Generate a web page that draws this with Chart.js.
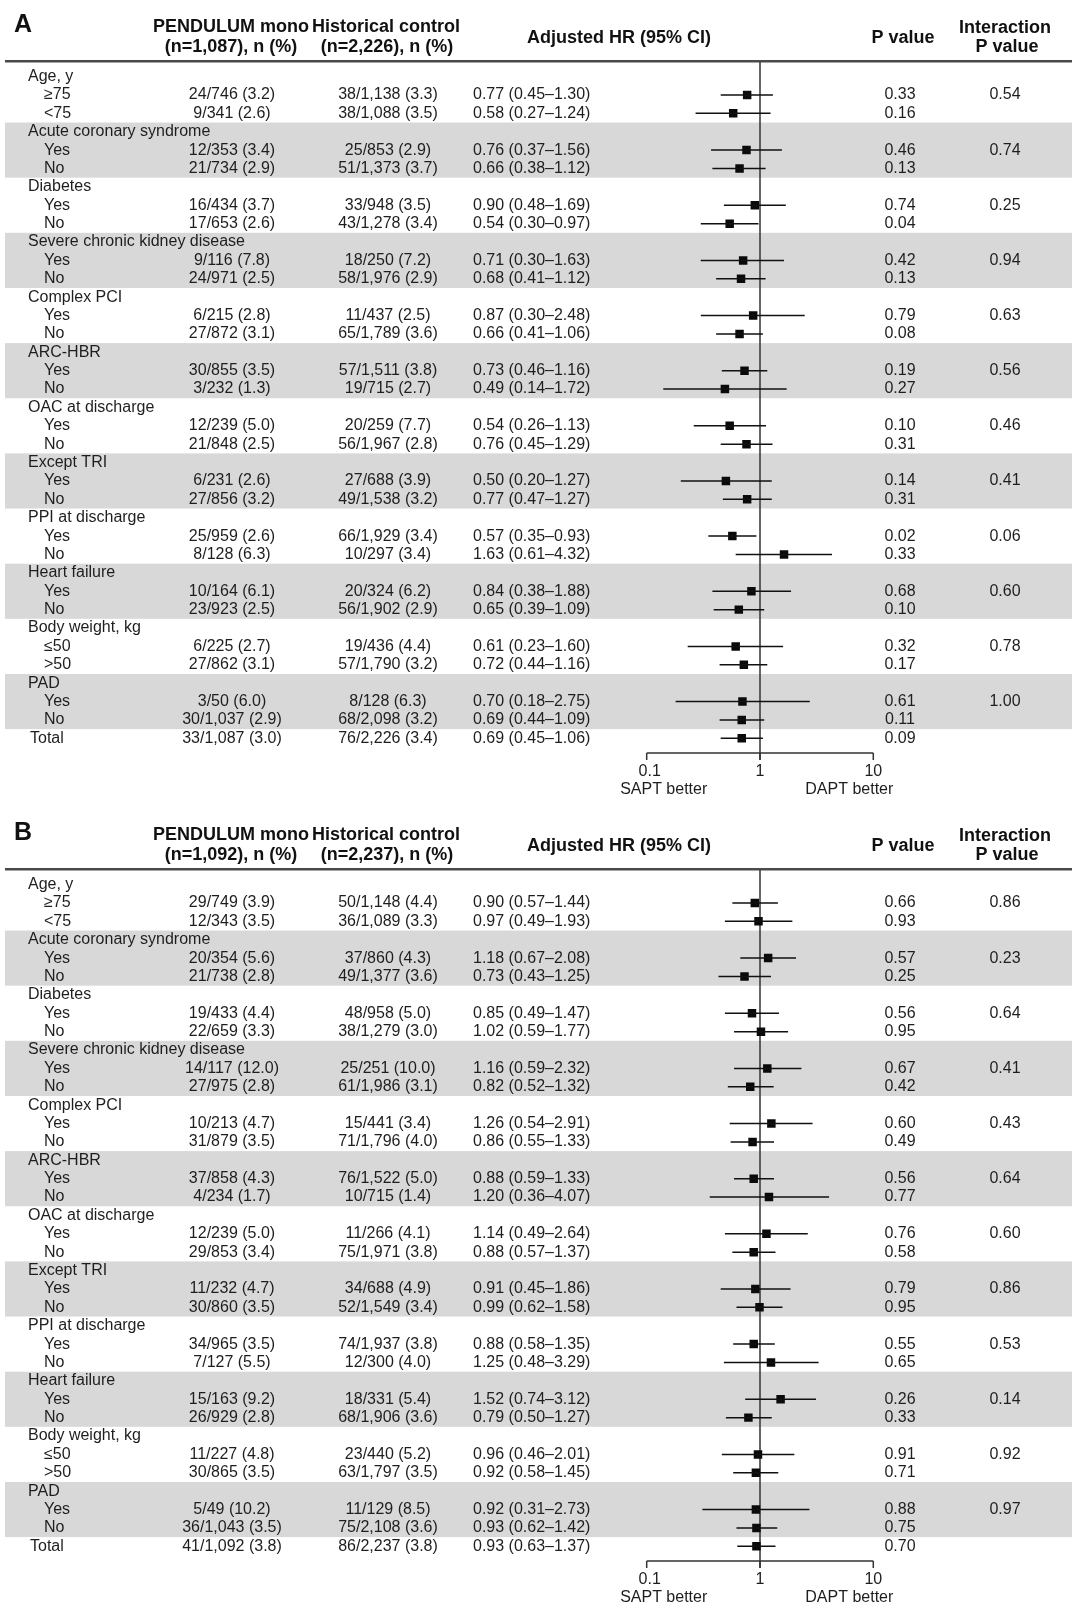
<!DOCTYPE html>
<html>
<head>
<meta charset="utf-8">
<script src="https://cdn.jsdelivr.net/npm/chart.js@4.4.1/dist/chart.umd.min.js"></script>
<style>
  html, body { margin: 0; padding: 0; background: #fff; overflow: hidden; }
  canvas { display: block; }
</style>
</head>
<body>
<canvas id="panelA" width="1072" height="808"></canvas>
<canvas id="panelB" width="1072" height="808"></canvas>
<script>
// ---------- shared labels ----------
const groupNames = ["Age, y", "Acute coronary syndrome", "Diabetes", "Severe chronic kidney disease",
  "Complex PCI", "ARC-HBR", "OAC at discharge", "Except TRI", "PPI at discharge",
  "Heart failure", "Body weight, kg", "PAD"];
const subLabels = [["≥75", "<75"], ["Yes", "No"], ["Yes", "No"], ["Yes", "No"], ["Yes", "No"],
  ["Yes", "No"], ["Yes", "No"], ["Yes", "No"], ["Yes", "No"], ["Yes", "No"], ["≤50", ">50"], ["Yes", "No"]];
const totalLabel = "Total";
const colHeaders = ["Adjusted HR (95% CI)", "P value", "Interaction", "P value"];
const tickValues = [0.1, 1, 10];
const tickLabels = ["0.1", "1", "10"];
const sideLabels = ["SAPT better", "DAPT better"];

// ---------- Panel A ----------
const titleA = "A";
const nHeadA = ["(n=1,087), n (%)", "(n=2,226), n (%)"];
const monoA = ["24/746 (3.2)", "9/341 (2.6)", "12/353 (3.4)", "21/734 (2.9)", "16/434 (3.7)", "17/653 (2.6)",
  "9/116 (7.8)", "24/971 (2.5)", "6/215 (2.8)", "27/872 (3.1)", "30/855 (3.5)", "3/232 (1.3)",
  "12/239 (5.0)", "21/848 (2.5)", "6/231 (2.6)", "27/856 (3.2)", "25/959 (2.6)", "8/128 (6.3)",
  "10/164 (6.1)", "23/923 (2.5)", "6/225 (2.7)", "27/862 (3.1)", "3/50 (6.0)", "30/1,037 (2.9)", "33/1,087 (3.0)"];
const ctrlA = ["38/1,138 (3.3)", "38/1,088 (3.5)", "25/853 (2.9)", "51/1,373 (3.7)", "33/948 (3.5)", "43/1,278 (3.4)",
  "18/250 (7.2)", "58/1,976 (2.9)", "11/437 (2.5)", "65/1,789 (3.6)", "57/1,511 (3.8)", "19/715 (2.7)",
  "20/259 (7.7)", "56/1,967 (2.8)", "27/688 (3.9)", "49/1,538 (3.2)", "66/1,929 (3.4)", "10/297 (3.4)",
  "20/324 (6.2)", "56/1,902 (2.9)", "19/436 (4.4)", "57/1,790 (3.2)", "8/128 (6.3)", "68/2,098 (3.2)", "76/2,226 (3.4)"];
const hrA = [0.77, 0.58, 0.76, 0.66, 0.90, 0.54, 0.71, 0.68, 0.87, 0.66, 0.73, 0.49, 0.54, 0.76, 0.50, 0.77, 0.57, 1.63, 0.84, 0.65, 0.61, 0.72, 0.70, 0.69, 0.69];
const loA = [0.45, 0.27, 0.37, 0.38, 0.48, 0.30, 0.30, 0.41, 0.30, 0.41, 0.46, 0.14, 0.26, 0.45, 0.20, 0.47, 0.35, 0.61, 0.38, 0.39, 0.23, 0.44, 0.18, 0.44, 0.45];
const hiA = [1.30, 1.24, 1.56, 1.12, 1.69, 0.97, 1.63, 1.12, 2.48, 1.06, 1.16, 1.72, 1.13, 1.29, 1.27, 1.27, 0.93, 4.32, 1.88, 1.09, 1.60, 1.16, 2.75, 1.09, 1.06];
const pA = ["0.33", "0.16", "0.46", "0.13", "0.74", "0.04", "0.42", "0.13", "0.79", "0.08", "0.19", "0.27",
  "0.10", "0.31", "0.14", "0.31", "0.02", "0.33", "0.68", "0.10", "0.32", "0.17", "0.61", "0.11", "0.09"];
const interA = ["0.54", "0.74", "0.25", "0.94", "0.63", "0.56", "0.46", "0.41", "0.06", "0.60", "0.78", "1.00"];

// ---------- Panel B ----------
const titleB = "B";
const nHeadB = ["(n=1,092), n (%)", "(n=2,237), n (%)"];
const monoB = ["29/749 (3.9)", "12/343 (3.5)", "20/354 (5.6)", "21/738 (2.8)", "19/433 (4.4)", "22/659 (3.3)",
  "14/117 (12.0)", "27/975 (2.8)", "10/213 (4.7)", "31/879 (3.5)", "37/858 (4.3)", "4/234 (1.7)",
  "12/239 (5.0)", "29/853 (3.4)", "11/232 (4.7)", "30/860 (3.5)", "34/965 (3.5)", "7/127 (5.5)",
  "15/163 (9.2)", "26/929 (2.8)", "11/227 (4.8)", "30/865 (3.5)", "5/49 (10.2)", "36/1,043 (3.5)", "41/1,092 (3.8)"];
const ctrlB = ["50/1,148 (4.4)", "36/1,089 (3.3)", "37/860 (4.3)", "49/1,377 (3.6)", "48/958 (5.0)", "38/1,279 (3.0)",
  "25/251 (10.0)", "61/1,986 (3.1)", "15/441 (3.4)", "71/1,796 (4.0)", "76/1,522 (5.0)", "10/715 (1.4)",
  "11/266 (4.1)", "75/1,971 (3.8)", "34/688 (4.9)", "52/1,549 (3.4)", "74/1,937 (3.8)", "12/300 (4.0)",
  "18/331 (5.4)", "68/1,906 (3.6)", "23/440 (5.2)", "63/1,797 (3.5)", "11/129 (8.5)", "75/2,108 (3.6)", "86/2,237 (3.8)"];
const hrB = [0.90, 0.97, 1.18, 0.73, 0.85, 1.02, 1.16, 0.82, 1.26, 0.86, 0.88, 1.20, 1.14, 0.88, 0.91, 0.99, 0.88, 1.25, 1.52, 0.79, 0.96, 0.92, 0.92, 0.93, 0.93];
const loB = [0.57, 0.49, 0.67, 0.43, 0.49, 0.59, 0.59, 0.52, 0.54, 0.55, 0.59, 0.36, 0.49, 0.57, 0.45, 0.62, 0.58, 0.48, 0.74, 0.50, 0.46, 0.58, 0.31, 0.62, 0.63];
const hiB = [1.44, 1.93, 2.08, 1.25, 1.47, 1.77, 2.32, 1.32, 2.91, 1.33, 1.33, 4.07, 2.64, 1.37, 1.86, 1.58, 1.35, 3.29, 3.12, 1.27, 2.01, 1.45, 2.73, 1.42, 1.37];
const pB = ["0.66", "0.93", "0.57", "0.25", "0.56", "0.95", "0.67", "0.42", "0.60", "0.49", "0.56", "0.77",
  "0.76", "0.58", "0.79", "0.95", "0.55", "0.65", "0.26", "0.33", "0.91", "0.71", "0.88", "0.75", "0.70"];
const interB = ["0.86", "0.23", "0.64", "0.41", "0.43", "0.64", "0.60", "0.86", "0.53", "0.14", "0.92", "0.97"];

// ---------- drawing ----------
const FONT = '"Liberation Sans", Arial, Helvetica, sans-serif';
const TXT = '#1e1e1e';

// row slot of data row i on the y scale (group header rows sit between)
function rowSlot(i, n) { return i < n - 1 ? 3 * Math.floor(i / 2) + 1 + (i % 2) : 3 * groupNames.length; }

function fmt(v) { return v.toFixed(2); }

function makePanel(canvasId, P) {
  const n = P.hr.length;
  const pts = P.hr.map((v, i) => ({ x: v, y: rowSlot(i, n) }));
  const ci = [];
  P.lo.forEach((lo, i) => {
    ci.push({ x: lo, y: rowSlot(i, n) }, { x: P.hi[i], y: rowSlot(i, n) }, { x: null, y: null });
  });

  const tablePlugin = {
    id: 'forestTable',
    beforeDatasetsDraw(chart) {
      const ctx = chart.ctx, X = chart.scales.x, Y = chart.scales.y, ca = chart.chartArea;
      const W = chart.width;
      ctx.save();
      // alternating bands
      ctx.fillStyle = '#d8d8d8';
      groupNames.forEach((g, gi) => {
        if (gi % 2 === 1) {
          const t = Y.getPixelForValue(3 * gi - 0.5), b = Y.getPixelForValue(3 * gi + 2.5);
          ctx.fillRect(5, t, W - 5, b - t);
        }
      });
      // header rule
      ctx.fillStyle = '#4a4a4a';
      ctx.fillRect(5, ca.top - 2, W - 5, 2.5);

      // panel letter & headers
      ctx.fillStyle = '#111';
      ctx.textBaseline = 'middle';
      ctx.textAlign = 'left';
      ctx.font = 'bold 25px ' + FONT;
      ctx.fillText(P.title, 14, 25);
      ctx.font = 'bold 18px ' + FONT;
      ctx.textAlign = 'center';
      ctx.fillText('PENDULUM mono', 231, 27);
      ctx.fillText(P.nHead[0], 231, 47);
      ctx.fillText('Historical control', 386, 27);
      ctx.fillText(P.nHead[1], 387, 47);
      ctx.fillText(colHeaders[0], 619, 38);
      ctx.fillText(colHeaders[1], 903, 38);
      ctx.fillText(colHeaders[2], 1005, 28);
      ctx.fillText(colHeaders[3], 1007, 47);

      // table rows
      ctx.fillStyle = TXT;
      ctx.font = '16px ' + FONT;
      groupNames.forEach((g, gi) => {
        ctx.textAlign = 'left';
        ctx.fillText(g, 28, Y.getPixelForValue(3 * gi));
        ctx.textAlign = 'center';
        ctx.fillText(P.inter[gi], 1005, Y.getPixelForValue(3 * gi + 1));
      });
      for (let i = 0; i < n; i++) {
        const y = Y.getPixelForValue(rowSlot(i, n));
        ctx.textAlign = 'left';
        if (i < n - 1) ctx.fillText(subLabels[Math.floor(i / 2)][i % 2], 44, y);
        else ctx.fillText(totalLabel, 30, y);
        ctx.textAlign = 'center';
        ctx.fillText(P.mono[i], 232, y);
        ctx.fillText(P.ctrl[i], 388, y);
        ctx.fillText(P.p[i], 900, y);
        ctx.textAlign = 'left';
        ctx.fillText(fmt(P.hr[i]) + ' (' + fmt(P.lo[i]) + '\u2013' + fmt(P.hi[i]) + ')', 473, y);
      }

      // reference line at HR = 1
      const x1 = X.getPixelForValue(1);
      ctx.strokeStyle = '#333';
      ctx.lineWidth = 1.5;
      ctx.beginPath();
      ctx.moveTo(x1, ca.top);
      ctx.lineTo(x1, ca.bottom + 7);
      ctx.stroke();

      // x axis
      ctx.beginPath();
      ctx.moveTo(X.getPixelForValue(tickValues[0]), ca.bottom);
      ctx.lineTo(X.getPixelForValue(tickValues[tickValues.length - 1]), ca.bottom);
      tickValues.forEach(t => {
        const tx = X.getPixelForValue(t);
        ctx.moveTo(tx, ca.bottom);
        ctx.lineTo(tx, ca.bottom + 7);
      });
      ctx.stroke();
      ctx.fillStyle = TXT;
      ctx.textAlign = 'center';
      tickValues.forEach((t, k) => ctx.fillText(tickLabels[k], X.getPixelForValue(t) + (k === 0 ? 3 : 0), ca.bottom + 19));
      ctx.fillText(sideLabels[0], X.getPixelForValue(tickValues[0]) + 17, ca.bottom + 37);
      ctx.fillText(sideLabels[1], X.getPixelForValue(tickValues[2]) - 24, ca.bottom + 37);
      ctx.restore();
    }
  };

  new Chart(document.getElementById(canvasId), {
    type: 'scatter',
    data: {
      datasets: [
        { data: ci, showLine: true, spanGaps: false, borderColor: '#111', borderWidth: 1.5, pointRadius: 0 },
        { data: pts, pointStyle: 'rect', pointRadius: 6, backgroundColor: '#0a0a0a', borderWidth: 0 }
      ]
    },
    options: {
      responsive: false,
      animation: false,
      devicePixelRatio: 1,
      layout: { padding: { left: 646.7, right: 1072 - 873.3, top: 62, bottom: 808 - 753 } },
      plugins: { legend: { display: false }, tooltip: { enabled: false } },
      scales: {
        x: { type: 'logarithmic', min: 0.1, max: 10, display: false },
        y: { type: 'linear', min: -0.794, max: 36.8, reverse: true, display: false }
      }
    },
    plugins: [tablePlugin]
  });
}

makePanel('panelA', { title: titleA, nHead: nHeadA, mono: monoA, ctrl: ctrlA, hr: hrA, lo: loA, hi: hiA, p: pA, inter: interA });
makePanel('panelB', { title: titleB, nHead: nHeadB, mono: monoB, ctrl: ctrlB, hr: hrB, lo: loB, hi: hiB, p: pB, inter: interB });
</script>
</body>
</html>
